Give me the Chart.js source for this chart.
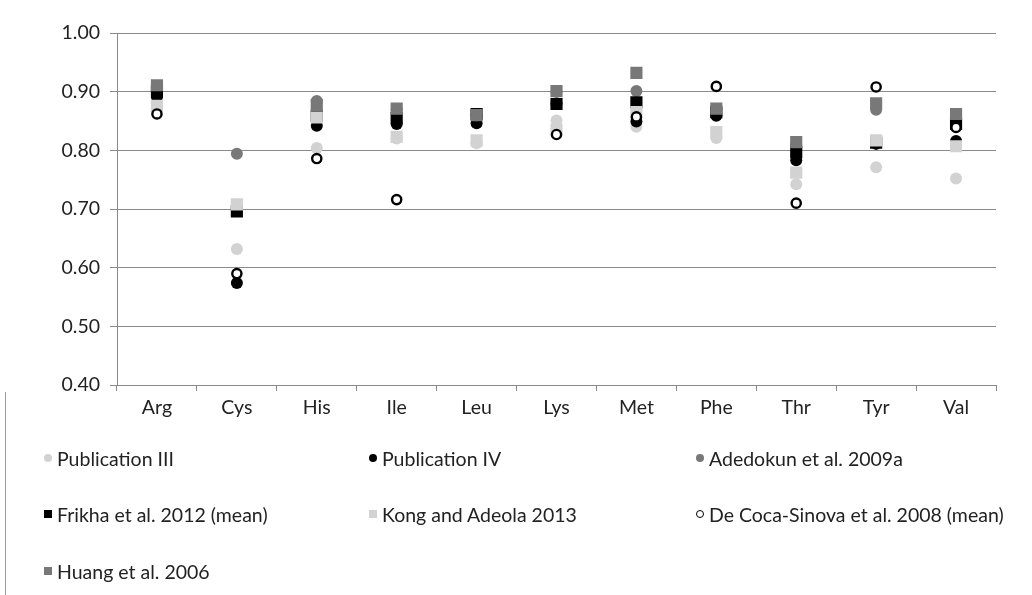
<!DOCTYPE html>
<html>
<head>
<meta charset="utf-8">
<script src="https://cdn.jsdelivr.net/npm/chart.js@4.4.0/dist/chart.umd.min.js"></script>
<style>
    html, body { margin: 0; padding: 0; background: #fff; }
    #wrap { position: relative; width: 1032px; height: 595px; }
    #legend { position: absolute; left: 0; top: 0; width: 1032px; height: 595px; pointer-events: none; }
    #borda { position: absolute; left: 5px; top: 392px; width: 0; height: 203px; border-left: 1px solid #9a9a9a; }
    .leg-item { position: absolute; display: flex; align-items: center; font-family: Lato, sans-serif; font-size: 19.5px; color: #222; white-space: nowrap; }
    .leg-mark { display: inline-block; margin-right: 5px; box-sizing: border-box; }
</style>
</head>
<body>
<div id="wrap">
    <canvas id="chart" width="1032" height="595"></canvas>
    <div id="legend"></div>
    <div id="borda"></div>
</div>
<script>
// Dados
const categorias = ['Arg', 'Cys', 'His', 'Ile', 'Leu', 'Lys', 'Met', 'Phe', 'Thr', 'Tyr', 'Val'];
const pubIII   = [0.880, 0.632, 0.804, 0.820, 0.812, 0.851, 0.840, 0.821, 0.742, 0.771, 0.752];
const pubIV    = [0.891, 0.574, 0.842, 0.845, 0.846, 0.880, 0.849, 0.859, 0.783, 0.811, 0.816];
const adedokun = [0.905, 0.794, 0.884, 0.870, 0.860, 0.900, 0.901, 0.870, 0.810, 0.869, 0.860];
const frikha   = [0.900, 0.696, 0.859, 0.855, 0.862, 0.879, 0.882, 0.865, 0.797, 0.813, 0.845];
const kong     = [0.876, 0.708, 0.856, 0.823, 0.817, 0.835, 0.865, 0.831, 0.762, 0.817, 0.807];
const deCoca   = [0.862, 0.590, 0.786, 0.716, null, 0.827, 0.857, 0.909, 0.710, 0.908, 0.839];
const huang    = [0.911, null, 0.877, 0.871, 0.860, 0.901, 0.932, 0.871, 0.814, 0.880, 0.862];
const yTicks   = [0.4, 0.5, 0.6, 0.7, 0.8, 0.9, 1.0];

const cinzaClaro = '#d2d2d2';
const cinzaEscuro = '#787878';

const series = [
    { nome: 'Publication III', dados: pubIII, estilo: 'circle', cor: cinzaClaro },
    { nome: 'Publication IV', dados: pubIV, estilo: 'circle', cor: '#000000' },
    { nome: 'Adedokun et al. 2009a', dados: adedokun, estilo: 'circle', cor: cinzaEscuro },
    { nome: 'Frikha et al. 2012 (mean)', dados: frikha, estilo: 'rect', cor: '#000000' },
    { nome: 'Kong and Adeola 2013', dados: kong, estilo: 'rect', cor: cinzaClaro },
    { nome: 'De Coca-Sinova et al. 2008 (mean)', dados: deCoca, estilo: 'open', cor: '#000000' },
    { nome: 'Huang et al. 2006', dados: huang, estilo: 'rect', cor: cinzaEscuro }
];

// Excel desenha a última série por cima
const datasets = series.map((s, i) => ({
    label: s.nome,
    data: s.dados,
    showLine: false,
    order: series.length - i,
    pointStyle: s.estilo === 'rect' ? 'rect' : 'circle',
    pointRadius: s.estilo === 'rect' ? 8.6 : (s.estilo === 'open' ? 4.6 : 6),
    pointBackgroundColor: s.estilo === 'open' ? '#ffffff' : s.cor,
    pointBorderColor: s.cor,
    pointBorderWidth: s.estilo === 'open' ? 2.4 : 0
}));

const fonteEixo = { family: 'Lato', size: 19.5 };

new Chart(document.getElementById('chart'), {
    type: 'line',
    data: { labels: categorias, datasets: datasets },
    options: {
        responsive: false,
        animation: false,
        events: [],
        layout: { padding: { top: 33, right: 36, bottom: 165, left: 0 } },
        plugins: { legend: { display: false }, tooltip: { enabled: false } },
        scales: {
            x: {
                offset: true,
                afterFit: s => { s.height = 45; },
                grid: { display: true, drawOnChartArea: false, offset: true, tickLength: 6, color: '#8a8a8a' },
                border: { display: true, color: '#8a8a8a' },
                ticks: { font: fonteEixo, color: '#222', padding: 5 }
            },
            y: {
                min: 0.4,
                max: 1.0,
                afterFit: s => { s.width = 117; },
                afterBuildTicks: s => { s.ticks = yTicks.map(v => ({ value: v })); },
                grid: { color: '#8a8a8a', tickLength: 7 },
                border: { display: true, color: '#8a8a8a' },
                ticks: {
                    font: fonteEixo,
                    color: '#222',
                    padding: 10,
                    callback: v => Number(v).toFixed(2)
                }
            }
        }
    }
});

// Legenda em três colunas
const legenda = document.getElementById('legend');
const colunas = [48, 373, 700];
const linhas = [458, 514, 571];
series.forEach((s, i) => {
    const item = document.createElement('div');
    item.className = 'leg-item';
    item.style.left = (colunas[i % 3] - 4) + 'px';
    item.style.top = (linhas[Math.floor(i / 3)] - 12) + 'px';
    item.style.height = '24px';
    const marca = document.createElement('span');
    marca.className = 'leg-mark';
    marca.style.width = '8px';
    marca.style.height = '8px';
    if (s.estilo === 'rect') {
        marca.style.background = s.cor;
    } else if (s.estilo === 'open') {
        marca.style.borderRadius = '50%';
        marca.style.border = '1.3px solid #000';
    } else {
        marca.style.borderRadius = '50%';
        marca.style.background = s.cor;
    }
    item.appendChild(marca);
    const texto = document.createElement('span');
    texto.textContent = s.nome;
    item.appendChild(texto);
    legenda.appendChild(item);
});
</script>
</body>
</html>
